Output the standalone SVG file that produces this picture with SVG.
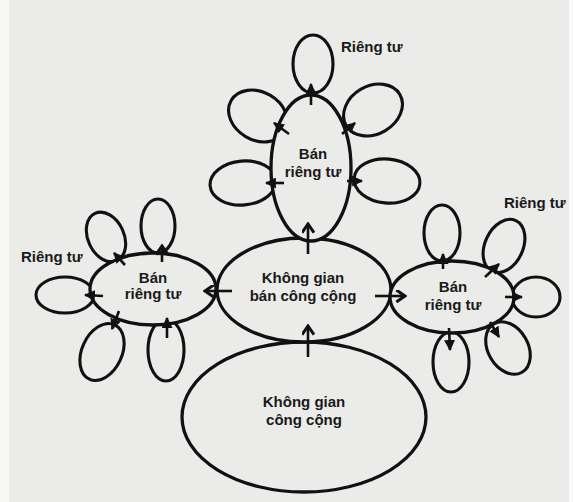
<svg xmlns="http://www.w3.org/2000/svg" width="573" height="502" viewBox="0 0 573 502">
  <style>
    .bg { fill: #ebebe9; }
    .shape { fill: #ebebe9; stroke: #111; stroke-width: 3.3; }
    .petal { fill: #ebebe9; stroke: #111; stroke-width: 3.1; }
    .conn { stroke: #111; stroke-width: 2.6; fill: none; }
    .lbl { font-family: "Liberation Sans", Arial, sans-serif; font-size: 15px; font-weight: bold; fill: #1a1a1a; }
    .c { text-anchor: middle; }
  </style>
  <defs>
    <marker id="chev" viewBox="0 0 12 12" refX="10" refY="6" markerWidth="13" markerHeight="13" markerUnits="userSpaceOnUse" orient="auto">
      <path d="M2,0.5 L10,6 L2,11.5" fill="none" stroke="#111" stroke-width="2.8"/>
    </marker>
    <marker id="fill" viewBox="0 0 10 10" refX="9" refY="5" markerWidth="11" markerHeight="11" markerUnits="userSpaceOnUse" orient="auto">
      <path d="M0,0 L10,5 L0,10 z" fill="#111"/>
    </marker>
  </defs>

  <rect class="bg" x="0" y="0" width="573" height="502"/>
  <rect x="0" y="0" width="9" height="502" fill="#f6f6f5"/>
  <rect x="569" y="0" width="4" height="502" fill="#fafafa"/>

  <g id="top-petals">
    <ellipse class="petal" cx="313" cy="64" rx="20" ry="29"/>
    <ellipse class="petal" cx="258" cy="116" rx="31" ry="24" transform="rotate(30 258 116)"/>
    <ellipse class="petal" cx="373" cy="110" rx="31" ry="24" transform="rotate(-30 373 110)"/>
    <ellipse class="petal" cx="243" cy="183" rx="33" ry="22" transform="rotate(-5 243 183)"/>
    <ellipse class="petal" cx="387" cy="181" rx="33" ry="22" transform="rotate(5 387 181)"/>
  </g>
  <g id="left-petals">
    <ellipse class="petal" cx="106" cy="237" rx="18" ry="26" transform="rotate(-25 106 237)"/>
    <ellipse class="petal" cx="158" cy="226" rx="17" ry="27"/>
    <ellipse class="petal" cx="65" cy="295" rx="29" ry="18"/>
    <ellipse class="petal" cx="102" cy="352" rx="20" ry="30" transform="rotate(25 102 352)"/>
    <ellipse class="petal" cx="166" cy="350" rx="18" ry="31"/>
  </g>
  <g id="right-petals">
    <ellipse class="petal" cx="442" cy="233" rx="18" ry="28"/>
    <ellipse class="petal" cx="504" cy="246" rx="19" ry="28" transform="rotate(25 504 246)"/>
    <ellipse class="petal" cx="536" cy="297" rx="24" ry="20"/>
    <ellipse class="petal" cx="508" cy="348" rx="20" ry="28" transform="rotate(-30 508 348)"/>
    <ellipse class="petal" cx="451" cy="362" rx="18" ry="30"/>
  </g>

  <g id="public">
    <ellipse class="shape" cx="304" cy="417" rx="122" ry="75"/>
    <text class="lbl c" x="304" y="407">Không gian</text>
    <text class="lbl c" x="304" y="425">công cộng</text>
  </g>
  <g id="semi-public">
    <ellipse class="shape" cx="304" cy="290" rx="87" ry="52"/>
    <text class="lbl c" x="303" y="283">Không gian</text>
    <text class="lbl c" x="303" y="301">bán công cộng</text>
  </g>
  <g id="semi-private-top">
    <ellipse class="shape" cx="311" cy="168" rx="40" ry="73"/>
    <text class="lbl c" x="313" y="159">Bán</text>
    <text class="lbl c" x="313" y="177">riêng tư</text>
  </g>
  <g id="semi-private-left">
    <ellipse class="shape" cx="153" cy="289" rx="63" ry="36"/>
    <text class="lbl c" x="153" y="283">Bán</text>
    <text class="lbl c" x="153" y="299">riêng tư</text>
  </g>
  <g id="semi-private-right">
    <ellipse class="shape" cx="452" cy="297" rx="62" ry="36"/>
    <text class="lbl c" x="453" y="292">Bán</text>
    <text class="lbl c" x="453" y="310">riêng tư</text>
  </g>

  <g id="labels">
    <text class="lbl" x="341" y="52">Riêng tư</text>
    <text class="lbl" x="21" y="262">Riêng tư</text>
    <text class="lbl" x="504" y="208">Riêng tư</text>
  </g>

  <g id="connectors">
    <line class="conn" x1="308" y1="357" x2="308" y2="326" marker-end="url(#chev)"/>
    <line class="conn" x1="308" y1="254" x2="308" y2="224" marker-end="url(#chev)"/>
    <line class="conn" x1="232" y1="291" x2="205" y2="291" marker-end="url(#chev)"/>
    <line class="conn" x1="375" y1="296" x2="405" y2="296" marker-end="url(#chev)"/>

    <line class="conn" x1="311" y1="105" x2="311" y2="84" marker-end="url(#fill)"/>
    <line class="conn" x1="289" y1="134" x2="274" y2="123" marker-end="url(#fill)"/>
    <line class="conn" x1="342" y1="134" x2="355" y2="123" marker-end="url(#fill)"/>
    <line class="conn" x1="284" y1="183" x2="266" y2="183" marker-end="url(#fill)"/>
    <line class="conn" x1="347" y1="181" x2="362" y2="181" marker-end="url(#fill)"/>

    <line class="conn" x1="125" y1="265" x2="114" y2="253" marker-end="url(#fill)"/>
    <line class="conn" x1="162" y1="262" x2="162" y2="246" marker-end="url(#chev)"/>
    <line class="conn" x1="103" y1="296" x2="85" y2="295" marker-end="url(#fill)"/>
    <line class="conn" x1="119" y1="311" x2="112" y2="329" marker-end="url(#fill)"/>
    <line class="conn" x1="167" y1="338" x2="167" y2="318" marker-end="url(#fill)"/>

    <line class="conn" x1="443" y1="269" x2="443" y2="254" marker-end="url(#fill)"/>
    <line class="conn" x1="485" y1="277" x2="499" y2="264" marker-end="url(#fill)"/>
    <line class="conn" x1="505" y1="297" x2="522" y2="297" marker-end="url(#fill)"/>
    <line class="conn" x1="490" y1="322" x2="499" y2="337" marker-end="url(#fill)"/>
    <line class="conn" x1="449" y1="328" x2="450" y2="350" marker-end="url(#fill)"/>
  </g>
</svg>
